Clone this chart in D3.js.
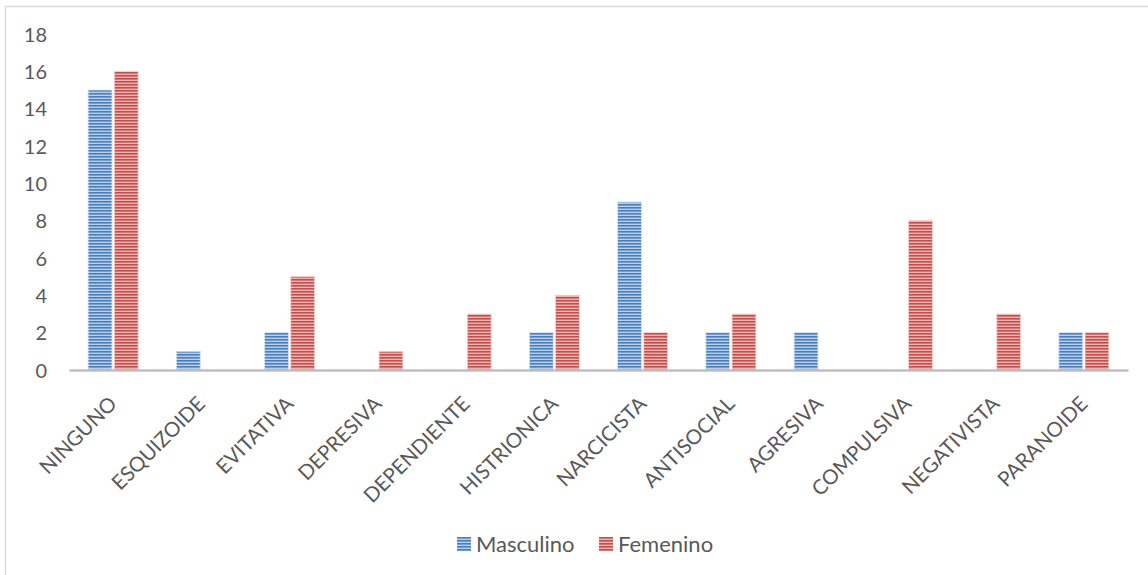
<!DOCTYPE html>
<html>
<head>
<meta charset="utf-8">
<script src="https://cdn.jsdelivr.net/npm/d3@7"></script>
<style>
  html, body { margin: 0; padding: 0; background: #fff; }
  svg { display: block; font-family: Lato, "Open Sans", sans-serif; }
</style>
</head>
<body>
<svg id="chart" width="1148" height="575"></svg>
<script>
// Personality profile counts by sex
const categories = ["NINGUNO", "ESQUIZOIDE", "EVITATIVA", "DEPRESIVA", "DEPENDIENTE", "HISTRIONICA",
                    "NARCICISTA", "ANTISOCIAL", "AGRESIVA", "COMPULSIVA", "NEGATIVISTA", "PARANOIDE"];
const seriesNames = ["Masculino", "Femenino"];
const masculino = [15, 1, 2, 0, 0, 2, 9, 2, 2, 0, 0, 2];
const femenino  = [16, 0, 5, 1, 3, 4, 2, 3, 0, 8, 3, 2];
const yTicks = [0, 2, 4, 6, 8, 10, 12, 14, 16, 18];

const seriesValues = [masculino, femenino];
const svg = d3.select("#chart");

// Striped fills (horizontal lines)
const fills = [
  { id: "stripeBlue", dark: "#4a7ebb", light: "#b9cfea" },
  { id: "stripeRed",  dark: "#c0504d", light: "#edb3b1" }
];
const defs = svg.append("defs");
fills.forEach(f => {
  const p = defs.append("pattern")
    .attr("id", f.id)
    .attr("patternUnits", "userSpaceOnUse")
    .attr("width", 6).attr("height", 3);
  p.append("rect").attr("width", 6).attr("height", 3).attr("fill", f.light);
  p.append("rect").attr("width", 6).attr("height", 1.6).attr("fill", f.dark);
});

// Outer frame
svg.append("rect")
  .attr("x", 5.5).attr("y", 6.5)
  .attr("width", 1160).attr("height", 600)
  .attr("fill", "none").attr("stroke", "#d9d9d9").attr("stroke-width", 1.5);

const plot = { left: 69, right: 1128, top: 34, bottom: 370 };

const x = d3.scaleBand().domain(categories).range([plot.left, plot.right]).padding(0);
const groupWidth = 50;
const xs = d3.scaleBand().domain(seriesNames).range([0, groupWidth]).paddingInner(0.09);
const y = d3.scaleLinear().domain([0, 18]).range([plot.bottom, plot.top]);

// Bars
const rows = [];
categories.forEach((c, i) => {
  seriesNames.forEach((s, j) => rows.push({ cat: c, series: s, si: j, value: seriesValues[j][i] }));
});
svg.append("g").selectAll("rect")
  .data(rows.filter(d => d.value > 0))
  .join("rect")
  .attr("x", d => x(d.cat) + x.bandwidth() / 2 - groupWidth / 2 + xs(d.series))
  .attr("y", d => y(d.value))
  .attr("width", xs.bandwidth())
  .attr("height", d => y(0) - y(d.value))
  .attr("fill", d => `url(#${fills[d.si].id})`)
  .attr("stroke", d => d.si === 0 ? "#d3e0f0" : "#f3d0cf")
  .attr("stroke-width", 0.8);

// Y axis labels (no axis line, no gridlines)
const yAxis = d3.axisLeft(y).tickValues(yTicks).tickSize(0).tickPadding(0);
const gy = svg.append("g").attr("transform", "translate(47,0)").call(yAxis);
gy.select(".domain").remove();
gy.selectAll("text")
  .attr("fill", "#595959")
  .attr("font-size", 20)
  .attr("font-family", "Lato, sans-serif")
  .attr("dy", "0.35em");

// X axis
const xAxis = d3.axisBottom(x).tickSize(0).tickPadding(0);
const gx = svg.append("g").attr("transform", `translate(0,${plot.bottom})`).call(xAxis);
gx.select(".domain").attr("stroke", "#bfbfbf").attr("stroke-width", 2.5);
gx.selectAll(".tick text")
  .attr("fill", "#595959")
  .attr("font-size", 20.5)
  .attr("font-family", "Lato, sans-serif")
  .attr("text-anchor", "end")
  .attr("transform", "translate(0,30) rotate(-45)")
  .attr("dy", "0.35em")
  .attr("y", 0);

// Legend
const legend = svg.append("g").attr("transform", "translate(457,537)");
const items = legend.selectAll("g").data(seriesNames).join("g")
  .attr("transform", (d, i) => `translate(${i * 142},0)`);
items.append("rect")
  .attr("width", 14).attr("height", 14)
  .attr("fill", (d, i) => `url(#${fills[i].id})`);
items.append("text")
  .attr("x", 19).attr("y", 7).attr("dy", "0.35em")
  .attr("fill", "#595959")
  .attr("font-size", 22)
  .attr("font-family", "Lato, sans-serif")
  .text(d => d);
</script>
</body>
</html>
